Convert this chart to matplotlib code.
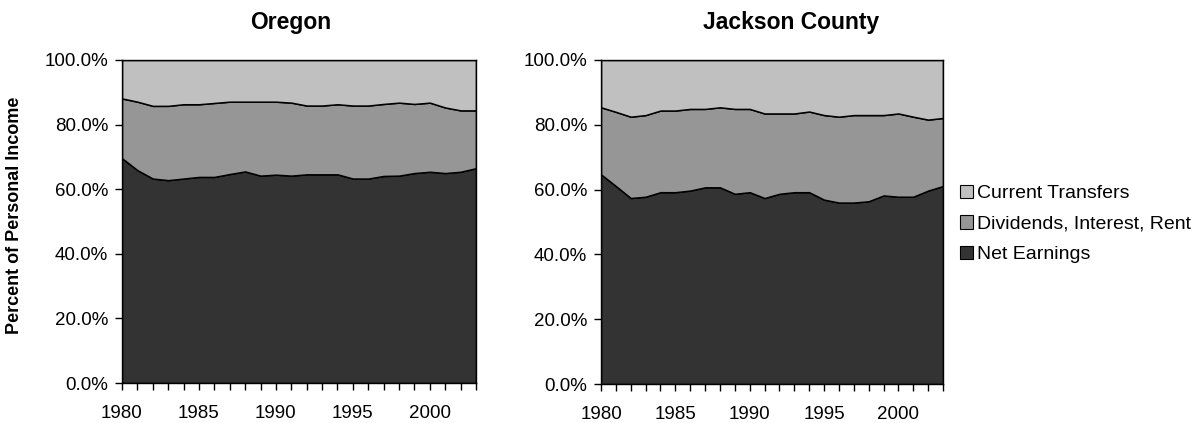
import matplotlib
matplotlib.use("Agg")
import matplotlib.pyplot as plt
from matplotlib.patches import Patch
from matplotlib.ticker import FuncFormatter, MultipleLocator
import numpy as np

plt.rcParams['font.family'] = ['Liberation Sans', 'DejaVu Sans']

years = list(range(1980, 2004))
series_names = ["Net Earnings", "Dividends, Interest, Rent", "Current Transfers"]
colors = ["#333333", "#969696", "#C0C0C0"]

# Shares of personal income (%)
oregon_net = [69.6, 65.9, 63.3, 62.8, 63.3, 63.8, 63.8, 64.7, 65.5, 64.2, 64.5, 64.2,
              64.6, 64.6, 64.6, 63.3, 63.3, 64.1, 64.2, 65.0, 65.4, 65.0, 65.4, 66.5]
oregon_dir = [18.5, 21.2, 22.5, 23.0, 23.0, 22.5, 22.9, 22.4, 21.6, 22.9, 22.6, 22.6,
              21.3, 21.3, 21.7, 22.6, 22.6, 22.3, 22.6, 21.4, 21.4, 20.3, 19.0, 17.9]
oregon_trans = [11.9, 12.9, 14.2, 14.2, 13.7, 13.7, 13.3, 12.9, 12.9, 12.9, 12.9, 13.2,
                14.1, 14.1, 13.7, 14.1, 14.1, 13.6, 13.2, 13.6, 13.2, 14.7, 15.6, 15.6]

jackson_net = [64.7, 61.1, 57.4, 57.8, 59.2, 59.2, 59.7, 60.7, 60.7, 58.7, 59.2, 57.4,
               58.7, 59.2, 59.2, 56.9, 56.0, 56.0, 56.4, 58.2, 57.8, 57.8, 59.7, 61.1]
jackson_dir = [20.7, 22.9, 25.1, 25.2, 25.2, 25.2, 25.2, 24.2, 24.7, 26.2, 25.7, 26.1,
               24.8, 24.3, 24.9, 26.1, 26.5, 27.0, 26.6, 24.8, 25.7, 24.7, 21.9, 21.0]
jackson_trans = [14.6, 16.0, 17.5, 17.0, 15.6, 15.6, 15.1, 15.1, 14.6, 15.1, 15.1, 16.5,
                 16.5, 16.5, 15.9, 17.0, 17.5, 17.0, 17.0, 17.0, 16.5, 17.5, 18.4, 17.9]

W, H = 1201, 423
fig = plt.figure(figsize=(W / 100, H / 100), dpi=100)
ax1 = fig.add_axes([122 / W, 1 - 383 / H, 354 / W, 323 / H])
ax2 = fig.add_axes([601 / W, 1 - 384 / H, 342 / W, 324 / H])

TICK_FS = 13.5


def draw(ax, title, title_x, net, div, trans):
    x = np.array(years)
    ax.stackplot(x, net, div, trans, colors=colors, edgecolor="black", linewidth=1.1)
    ax.set_xlim(years[0], years[-1])
    ax.set_ylim(0, 100)
    ax.yaxis.set_major_locator(MultipleLocator(20))
    ax.yaxis.set_major_formatter(FuncFormatter(lambda v, p: f"{v:.1f}%"))
    ax.set_xticks(years)
    ax.set_xticklabels([str(y) if y % 5 == 0 else "" for y in years])
    ax.tick_params(axis="y", direction="out", length=5, width=1, colors="black",
                   labelsize=TICK_FS, pad=5)
    ax.tick_params(axis="x", direction="out", length=5, width=1, colors="black",
                   labelsize=TICK_FS, pad=11)
    for s in ax.spines.values():
        s.set_color("black")
        s.set_linewidth(1.0)
    fig.text(title_x / W, 1 - 22 / H, title, fontsize=16.5, fontweight="bold",
             ha="center", va="center")


draw(ax1, "Oregon", 291, oregon_net, oregon_dir, oregon_trans)
draw(ax2, "Jackson County", 791, jackson_net, jackson_dir, jackson_trans)

fig.text(15 / W, 1 - 215 / H, "Percent of Personal Income", fontsize=13,
         fontweight="bold", rotation=90, ha="center", va="center")

handles = [Patch(facecolor=colors[i], edgecolor="black", linewidth=0.8)
           for i in (2, 1, 0)]
labels = [series_names[i] for i in (2, 1, 0)]
fig.legend(handles, labels, loc="center left", bbox_to_anchor=(960 / W, 1 - 224 / H),
           frameon=False, fontsize=14, handlelength=0.68, handleheight=0.68,
           handletextpad=0.2, labelspacing=0.67, borderpad=0, borderaxespad=0)

fig.savefig("out.png", dpi=100)
